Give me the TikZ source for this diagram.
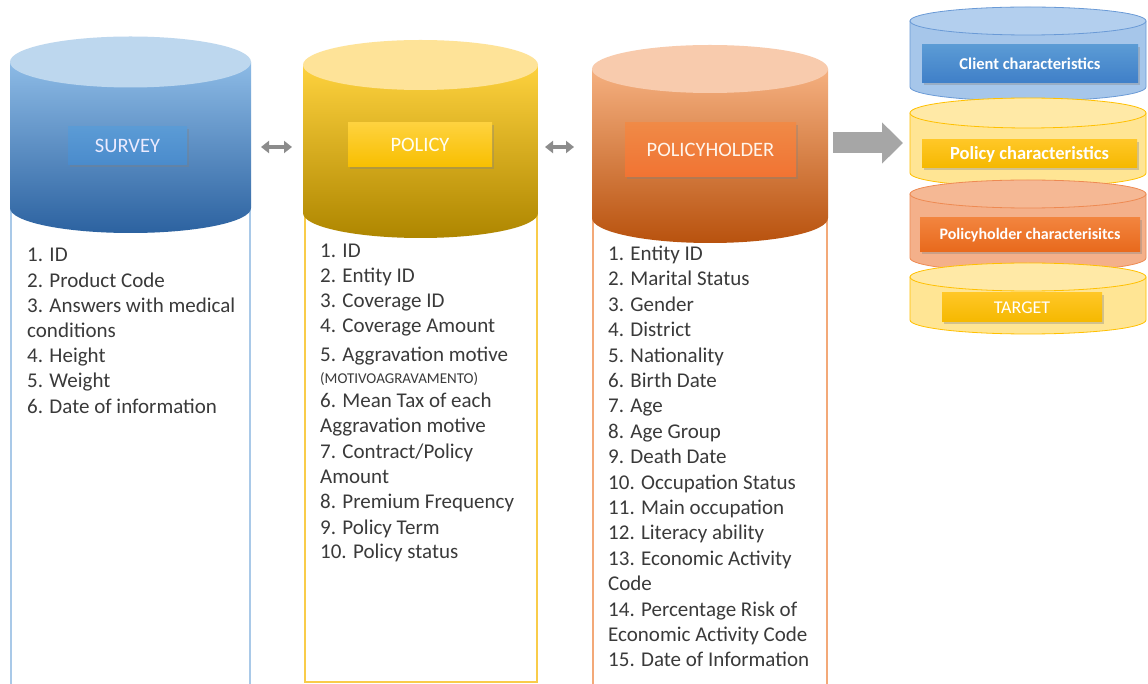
\documentclass[tikz,border=0pt]{standalone}
\usepackage{fontspec}
\setmainfont{Carlito}
\usetikzlibrary{arrows.meta,shadows}

% palette
\definecolor{txt}{HTML}{3A3A3A}
\definecolor{bluelid}{HTML}{BDD7EE}
\definecolor{bluetop}{HTML}{8DBBE6}
\definecolor{bluemid}{HTML}{5C9BD6}
\definecolor{bluebot}{HTML}{2C62A0}
\definecolor{blueedge}{HTML}{A9C9E8}
\definecolor{yellid}{HTML}{FEE398}
\definecolor{yeltop}{HTML}{FED23E}
\definecolor{yelmid}{HTML}{F8BF00}
\definecolor{yelbot}{HTML}{AE8600}
\definecolor{yeledge}{HTML}{F9CC4A}
\definecolor{orglid}{HTML}{F8CBAD}
\definecolor{orgtop}{HTML}{F5B080}
\definecolor{orgmid}{HTML}{EF8038}
\definecolor{orgbot}{HTML}{B8520E}
\definecolor{orgedge}{HTML}{F3A978}
\definecolor{arrowgrey}{HTML}{A6A6A6}
\definecolor{dblgrey}{HTML}{8C8C8C}
% title boxes
\definecolor{tagblueA}{HTML}{5B9BD5}
\definecolor{tagblueB}{HTML}{4A8BCC}
\definecolor{tagblueC}{HTML}{3F7FC8}
\definecolor{tagyelA}{HTML}{FFC726}
\definecolor{tagyelB}{HTML}{F5B800}
\definecolor{tagorgA}{HTML}{F2843E}
\definecolor{tagorgB}{HTML}{E8691C}
% feature stack
\definecolor{stkblue}{HTML}{A6C6EA}
\definecolor{stkbluelid}{HTML}{B3CFEE}
\definecolor{stkblueedge}{HTML}{6A9AD6}
\definecolor{stkyel}{HTML}{FFE594}
\definecolor{stkyellid}{HTML}{FFE9A6}
\definecolor{stkyeledge}{HTML}{FFC000}
\definecolor{stkorg}{HTML}{F4B08A}
\definecolor{stkorglid}{HTML}{F5B894}
\definecolor{stkorgedge}{HTML}{EE8A52}

% cylinder body: #1 left, #2 right, #3 lid centre y, #4 base centre y, #5 half height of the ellipses, #6 style
\newcommand\drumbody[6]{%
  \pgfmathsetmacro\drumrx{(#2-#1)/2}%
  \path[#6] (#1,#3) -- (#1,#4) arc[start angle=180,end angle=0,x radius=\drumrx,y radius=#5] -- (#2,#3) -- cycle;%
}
% cylinder lid: #1 left, #2 right, #3 centre y, #4 half height, #5 style
\newcommand\drumlid[5]{%
  \pgfmathsetmacro\drumrx{(#2-#1)/2}%
  \pgfmathsetmacro\drumcx{(#1+#2)/2}%
  \path[#5] (\drumcx,#3) ellipse[x radius=\drumrx,y radius=#4];%
}

\tikzset{
  listtext/.style={anchor=base west, inner sep=0pt, text=txt, font=\fontsize{21}{25}\selectfont},
  smalltext/.style={anchor=base west, inner sep=0pt, text=txt, font=\fontsize{15}{18}\selectfont},
  tagbox/.style={inner sep=0pt, anchor=center,
    drop shadow={opacity=0.35, shadow xshift=1.5pt, shadow yshift=-2.5pt}},
  listbox/.style={fill=white, line width=2pt},
  dblarrow/.style={draw=dblgrey, line width=4.5pt,
    {Triangle[length=8pt,width=12pt]}-{Triangle[length=8pt,width=12pt]}},
  bigarrow/.style={draw=arrowgrey, line width=21pt, -{Triangle[length=21pt,width=40pt]}},
}

\begin{document}
\begin{tikzpicture}[x=1pt,y=-1pt]
\useasboundingbox (0,0) rectangle (1148,684);
\fill[white] (0,0) rectangle (1148,684);

% ---------- attribute lists below the three tables ----------
\draw[listbox, draw=blueedge] (11,690) -- (11,208) -- (250,208) -- (250,690);
\draw[listbox, draw=yeledge] (305,213) rectangle (537,682);
\draw[listbox, draw=orgedge] (593,690) -- (593,218) -- (827,218) -- (827,690);

% ---------- table cylinders ----------
\drumbody{10}{251}{62}{208}{25}{top color=bluetop, middle color=bluemid, bottom color=bluebot}
\drumlid{10}{251}{62}{25.5}{fill=bluelid}
\drumbody{303}{538}{65}{213}{25}{top color=yeltop, middle color=yelmid, bottom color=yelbot}
\drumlid{303}{538}{65}{25}{fill=yellid}
\drumbody{592}{828}{69}{218}{25}{top color=orgtop, middle color=orgmid, bottom color=orgbot}
\drumlid{592}{828}{69}{24}{fill=orglid}

% table titles
\node[tagbox, top color=tagblueA, bottom color=tagblueB, minimum width=119pt, minimum height=38pt,
      text=white!92!blue, font=\fontsize{20.5}{24}\selectfont] (survey) at (127.5,146) {SURVEY};
\node[tagbox, top color=yeltop, bottom color=yelmid, minimum width=144pt, minimum height=44pt,
      text=white!95!yellow, font=\fontsize{20.5}{24}\selectfont] (policy) at (420,145) {POLICY};
\node[tagbox, top color=orgmid!80!orgtop, bottom color=orgmid!90!red, minimum width=171pt, minimum height=54pt,
      text=white!92!orange, font=\fontsize{20.5}{24}\selectfont] (holder) at (710.5,150) {POLICYHOLDER};

% ---------- links between the tables ----------
\coordinate (l1a) at (261,147);
\coordinate (l1b) at (292,147);
\coordinate (l2a) at (545,147);
\coordinate (l2b) at (574,147);
\draw[dblarrow] (l1a) -- (l1b);
\draw[dblarrow] (l2a) -- (l2b);

\coordinate (ba) at (833,143);
\coordinate (bb) at (903,143);
\draw[bigarrow] (ba) -- (bb);

% ---------- resulting feature stack ----------
\drumbody{910}{1146}{21}{87}{14}{fill=stkblue, draw=stkblueedge, line width=0.8pt}
\drumlid{910}{1146}{21}{14}{fill=stkbluelid, draw=stkblueedge, line width=0.8pt}
\drumbody{910}{1146}{113}{173}{14}{fill=stkyel, draw=stkyeledge, line width=0.8pt}
\drumlid{910}{1146}{113}{15}{fill=stkyellid, draw=stkyeledge, line width=0.8pt}
\drumbody{910}{1146}{194}{258}{14}{fill=stkorg, draw=stkorgedge, line width=0.8pt}
\drumlid{910}{1146}{194}{14}{fill=stkorglid, draw=stkorgedge, line width=0.8pt}
\drumbody{910}{1146}{277}{320}{14}{fill=stkyel, draw=stkyeledge, line width=0.8pt}
\drumlid{910}{1146}{277}{14}{fill=stkyellid, draw=stkyeledge, line width=0.8pt}

\node[tagbox, top color=tagblueA, bottom color=tagblueC, minimum width=216pt, minimum height=38pt,
      text=white, font=\bfseries\fontsize{16.5}{20}\selectfont] (client) at (1030,64) {Client characteristics};
\node[tagbox, top color=tagyelA, bottom color=tagyelB, minimum width=215pt, minimum height=28pt,
      text=white, font=\bfseries\fontsize{18.5}{22}\selectfont] (polc) at (1029.5,154) {Policy characteristics};
\node[tagbox, top color=tagorgA, bottom color=tagorgB, minimum width=220pt, minimum height=34pt,
      text=white, font=\bfseries\fontsize{16}{20}\selectfont] (holdc) at (1030,235) {Policyholder characterisitcs};
\node[tagbox, top color=tagyelA, bottom color=tagyelB, minimum width=160pt, minimum height=29pt,
      text=white, font=\fontsize{18}{22}\selectfont] (target) at (1022,307.5) {TARGET};

% ---------- attribute texts ----------
\foreach \t [count=\i] in {1. ID, 2. Product Code, 3. Answers with medical, conditions,
                           4. Height, 5. Weight, 6. Date of information}
  \node[listtext] (s\i) at (27,{262+25.2*(\i-1)}) {\t};

\foreach \y/\t [count=\i] in {258/1. ID, 283/2. Entity ID, 308/3. Coverage ID, 333/4. Coverage Amount,
                           361/5. Aggravation motive, 407/6. Mean Tax of each, 432/Aggravation motive,
                           458/7. Contract\slash Policy, 483/Amount, 508/8. Premium Frequency,
                           534/9. Policy Term, 558/10. Policy status}
  \node[listtext] (p\i) at (320,\y) {\t};
\node[smalltext] (pnote) at (320,383) {(MOTIVOAGRAVAMENTO)};

\foreach \t [count=\i] in {1. Entity ID, 2. Marital Status, 3. Gender, 4. District, 5. Nationality,
                           6. Birth Date, 7. Age, 8. Age Group, 9. Death Date, 10. Occupation Status,
                           11. Main occupation, 12. Literacy ability, 13. Economic Activity, Code,
                           14. Percentage Risk of, Economic Activity Code, 15. Date of Information}
  \node[listtext] (h\i) at (608,{260.5+25.4*(\i-1)}) {\t};
\end{tikzpicture}
\end{document}
